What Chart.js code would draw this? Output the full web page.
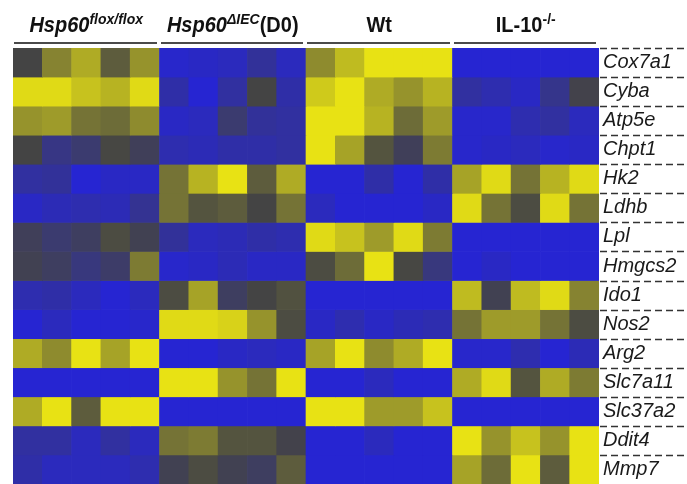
<!DOCTYPE html>
<html>
<head>
<meta charset="utf-8">
<script src="https://cdn.jsdelivr.net/npm/chart.js@4"></script>
<style>
  body { margin: 0; background: #fff; }
  #wrap { position: relative; width: 687px; height: 484px; font-family: 'Liberation Sans', Arial, sans-serif; }
  canvas { position: absolute; left: 0; top: 0; }
  .grp { position: absolute; top: 15px; font-size: 20px; line-height: 20px; font-weight: bold; color: #111; white-space: nowrap;
         transform: translateX(-50%) scaleY(1.08); transform-origin: 50% 85%; }
  .grp sup { font-size: 14px; vertical-align: 7px; line-height: 0; }
  .uline { position: absolute; top: 42px; height: 0; border-top: 2.5px solid #4a4a4a; }
</style>
</head>
<body>
<div id="wrap">
  <canvas id="heat" width="687" height="484"></canvas>
</div>
<script>
/* ---------------- Data ---------------- */

const genes = ["Cox7a1", "Cyba", "Atp5e", "Chpt1", "Hk2", "Ldhb", "Lpl", "Hmgcs2",
               "Ido1", "Nos2", "Arg2", "Slc7a11", "Slc37a2", "Ddit4", "Mmp7"];

const samples = ["F1", "F2", "F3", "F4", "F5", "D1", "D2", "D3", "D4", "D5",
                 "W1", "W2", "W3", "W4", "W5", "I1", "I2", "I3", "I4", "I5"];

// group headers (5 samples each)
const groupBase = ["Hsp60", "Hsp60", "Wt", "IL-10"];
const groupSup = ["flox/flox", "\u0394IEC", "", "-/-"];
const groupTail = ["", "(D0)", "", ""];
const groupItalic = [true, true, false, false];

// relative expression, -1 = blue, 0 = dark, 1 = yellow
const cox7a1  = [0, 0.4, 0.65, 0.15, 0.5,   -0.95, -0.9, -0.85, -0.6, -0.85,   0.45, 0.75, 1, 1, 1,   -1, -1, -1, -1, -1];
const cyba    = [0.95, 0.95, 0.8, 0.7, 0.95,   -0.7, -1, -0.65, 0, -0.7,   0.85, 1, 0.65, 0.5, 0.7,   -0.65, -0.75, -0.9, -0.5, -0.05];
const atp5e   = [0.5, 0.55, 0.3, 0.25, 0.45,   -0.9, -0.85, -0.3, -0.6, -0.65,   1, 1, 0.7, 0.25, 0.55,   -0.95, -0.95, -0.75, -0.65, -0.85];
const chpt1   = [0, -0.45, -0.3, 0.02, -0.15,   -0.75, -0.8, -0.7, -0.7, -0.65,   1, 0.6, 0.1, -0.15, 0.35,   -0.95, -0.9, -0.85, -0.95, -0.9];
const hk2     = [-0.65, -0.6, -1, -0.9, -0.9,   0.3, 0.7, 1, 0.15, 0.65,   -1, -1, -0.7, -1, -0.7,   0.6, 0.95, 0.3, 0.7, 0.95];
const ldhb    = [-0.9, -0.8, -0.75, -0.8, -0.55,   0.3, 0.1, 0.15, 0, 0.3,   -0.85, -1, -1, -1, -0.9,   0.95, 0.3, 0.05, 0.95, 0.3];
const lpl     = [-0.15, -0.3, -0.2, 0.05, -0.1,   -0.6, -0.85, -0.8, -0.7, -0.75,   0.95, 0.8, 0.55, 0.95, 0.35,   -1, -1, -1, -1, -1];
const hmgcs2  = [-0.1, -0.2, -0.4, -0.25, 0.35,   -0.95, -0.9, -0.8, -0.9, -0.9,   0.05, 0.25, 1, 0.02, -0.4,   -1, -0.9, -1, -1, -1];
const ido1    = [-0.75, -0.7, -0.85, -1, -0.85,   0.05, 0.6, -0.2, 0, 0.08,   -1, -1, -1, -1, -1,   0.75, -0.1, 0.75, 0.95, 0.4];
const nos2    = [-1, -0.85, -1, -1, -0.95,   0.95, 0.95, 0.9, 0.5, 0.05,   -0.9, -0.75, -0.9, -0.8, -0.75,   0.3, 0.55, 0.55, 0.3, 0.05];
const arg2    = [0.65, 0.45, 1, 0.6, 1,   -1, -1, -0.9, -0.85, -0.9,   0.6, 1, 0.45, 0.65, 1,   -0.95, -0.95, -0.75, -1, -0.8];
const slc7a11 = [-1, -1, -1, -1, -1,   1, 1, 0.5, 0.3, 1,   -1, -1, -0.85, -1, -1,   0.65, 0.95, 0.1, 0.65, 0.35];
const slc37a2 = [0.65, 1, 0.15, 1, 1,   -1, -1, -1, -1, -1,   1, 1, 0.55, 0.55, 0.8,   -1, -1, -1, -1, -1];
const ddit4   = [-0.65, -0.65, -0.85, -0.65, -0.85,   0.3, 0.35, 0.1, 0.1, -0.05,   -1, -1, -0.85, -1, -1,   1, 0.5, 0.8, 0.5, 1];
const mmp7    = [-0.7, -0.85, -0.85, -0.85, -0.75,   -0.1, 0.05, -0.1, -0.2, 0.15,   -1, -1, -1, -1, -1,   0.6, 0.25, 1, 0.15, 1];

const rows = [cox7a1, cyba, atp5e, chpt1, hk2, ldhb, lpl, hmgcs2, ido1, nos2, arg2, slc7a11, slc37a2, ddit4, mmp7];

/* ---------------- Colour scale ---------------- */

const LOW = [38, 37, 210];
const MID = [68, 68, 68];
const HIGH = [232, 226, 20];

function heatColor(v) {
    const t = Math.min(1, Math.abs(v));
    const end = v < 0 ? LOW : HIGH;
    const c = MID.map((m, i) => Math.round(m + (end[i] - m) * t));
    return `rgb(${c[0]},${c[1]},${c[2]})`;
}

/* ---------------- Plugins ---------------- */

// dashed separators between the gene labels (no line under the last row)
const dashPlugin = {
    id: "dashes",
    afterDraw(chart) {
        const ctx = chart.ctx;
        const y = chart.scales.y;
        const left = chart.chartArea.right + 1;
        ctx.save();
        ctx.strokeStyle = "#333";
        ctx.lineWidth = 1.6;
        ctx.setLineDash([7, 4]);
        for (let i = 0; i < genes.length; i++) {
            const py = Math.round(y.getPixelForValue(i)) + 0.5;
            ctx.beginPath();
            ctx.moveTo(left, py);
            ctx.lineTo(chart.width, py);
            ctx.stroke();
        }
        ctx.restore();
    }
};

// group headers, placed over the x scale
let headersPlaced = false;
const headerPlugin = {
    id: "headers",
    afterDraw(chart) {
        if (headersPlaced) return;
        headersPlaced = true;
        const x = chart.scales.x;
        const wrap = document.getElementById("wrap");
        const half = (x.getPixelForValue(1) - x.getPixelForValue(0)) / 2;
        groupBase.forEach((g, k) => {
            const x0 = x.getPixelForValue(k * 5) - half;
            const x1 = x.getPixelForValue(k * 5 + 4) + half;

            const lbl = document.createElement("div");
            lbl.className = "grp";
            lbl.style.left = ((x0 + x1) / 2) + "px";
            const st = groupItalic[k] ? "font-style:italic" : "";
            lbl.innerHTML = `<span style="${st}">${g}</span>` +
                (groupSup[k] ? `<sup style="${st}">${groupSup[k]}</sup>` : "") +
                groupTail[k];
            wrap.appendChild(lbl);

            const ln = document.createElement("div");
            ln.className = "uline";
            ln.style.left = (x0 + 1) + "px";
            ln.style.width = (x1 - x0 - 4) + "px";
            wrap.appendChild(ln);
        });
    }
};

/* ---------------- Chart ---------------- */

const datasets = rows.map((vals, r) => ({
    label: genes[r],
    data: samples.map(() => 1),
    backgroundColor: vals.map(heatColor),
    borderWidth: 0,
    barPercentage: 1,
    categoryPercentage: 1
}));

new Chart(document.getElementById("heat"), {
    type: "bar",
    data: { labels: samples, datasets },
    options: {
        responsive: false,
        animation: false,
        layout: { padding: { left: 13, top: 48, right: 0, bottom: 0 } },
        plugins: { legend: { display: false }, tooltip: { enabled: false } },
        scales: {
            x: { stacked: true, display: false },
            y: {
                stacked: true,
                min: 0,
                max: genes.length,
                reverse: true,
                position: "right",
                grid: { display: false, drawTicks: false },
                border: { display: false },
                afterBuildTicks(scale) {
                    scale.ticks = genes.map((g, i) => ({ value: i + 0.5 }));
                },
                afterFit(scale) {
                    scale.width = 88;
                    scale.paddingTop = 0;
                    scale.paddingBottom = 0;
                },
                ticks: {
                    padding: 4,
                    color: "#1a1a1a",
                    font: { family: "'Liberation Sans', Arial, sans-serif", size: 20, style: "italic" },
                    callback: (v) => genes[Math.floor(v)]
                }
            }
        }
    },
    plugins: [dashPlugin, headerPlugin]
});
</script>
</body>
</html>
